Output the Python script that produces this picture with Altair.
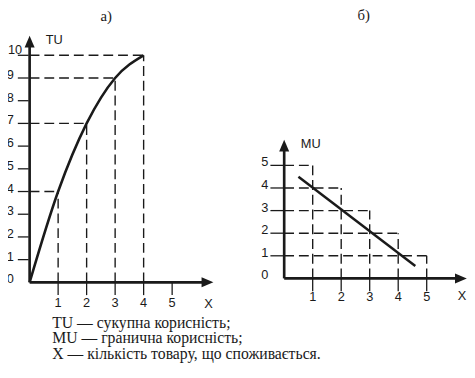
import altair as alt
import pandas as pd

# ---------------- Panel а): total utility TU ----------------
tu_x = [0, 1, 2, 3, 4]
tu_y = [0, 4, 7, 9, 10]
a_guide_x = [1, 2, 3, 4]
a_guide_y = [4, 7, 9, 10]
a_ytick_vals = [1, 2, 3, 4, 5, 6, 7, 8, 9, 10]
a_ylabel_vals = [0, 1, 2, 3, 4, 5, 6, 7, 8, 9, 10]
a_xtick_vals = [1, 2, 3, 4, 5]
a_axis_end_x = 6.24
a_axis_end_y = 10.6

# ---------------- Panel б): marginal utility MU ----------------
mu_x = [0.5, 4.6]
mu_y = [4.5, 0.55]
b_step_x = [1, 2, 3, 4, 5]
b_step_y = [5, 4, 3, 2, 1]
b_ytick_vals = [1, 2, 3, 4, 5]
b_ylabel_vals = [0, 1, 2, 3, 4, 5]
b_xtick_vals = [1, 2, 3, 4, 5]
b_axis_end_x = 6.2
b_axis_end_y = 5.87

captions = [
    "TU — сукупна корисність;",
    "MU — гранична корисність;",
    "X — кількість товару, що споживається.",
]

INK = "#1a1a1a"
SANS = "Liberation Sans"
SERIF = "Liberation Serif"
DASH = [10, 5]

xa = alt.Scale(domain=[0, 5], range=[22, 167], nice=False, zero=False)
ya = alt.Scale(domain=[0, 10], range=[276, 45], nice=False, zero=False)
xb = alt.Scale(domain=[0, 5], range=[281, 426], nice=False, zero=False)
yb = alt.Scale(domain=[0, 5], range=[272, 157], nice=False, zero=False)

UP = "M0,-1L0.85,1L-0.85,1Z"
RIGHT = "M1,0L-1,0.85L-1,-0.85Z"


def X(f, s):
    return alt.X(f, type="quantitative", scale=s, axis=None)


def Y(f, s):
    return alt.Y(f, type="quantitative", scale=s, axis=None)


def frame(xs, ys, end_x, end_y, ytick_vals, ylabel_vals, xtick_vals, xlab_dy, ytick_left):
    axes = pd.DataFrame({
        "x0": [0, 0], "x1": [0, end_x],
        "y0": [0, 0], "y1": [end_y, 0],
    })
    axis_lines = alt.Chart(axes).mark_rule(color=INK, strokeWidth=2.7).encode(
        x=X("x0", xs), x2="x1", y=Y("y0", ys), y2="y1")
    up = alt.Chart(pd.DataFrame({"x": [0], "y": [end_y]})).mark_point(
        shape=UP, filled=True, size=144, color=INK, opacity=1, strokeWidth=0
    ).encode(x=X("x", xs), y=Y("y", ys))
    right = alt.Chart(pd.DataFrame({"x": [end_x], "y": [0]})).mark_point(
        shape=RIGHT, filled=True, size=144, color=INK, opacity=1, strokeWidth=0
    ).encode(x=X("x", xs), y=Y("y", ys))
    yt = pd.DataFrame({"v": ytick_vals, "z": [0] * len(ytick_vals)})
    yticks = alt.Chart(yt).mark_rule(
        color=INK, strokeWidth=1.3, xOffset=ytick_left, x2Offset=-1
    ).encode(x=X("z", xs), x2="z", y=Y("v", ys))
    yl = pd.DataFrame({"v": ylabel_vals, "z": [0] * len(ylabel_vals),
                       "t": [str(v) for v in ylabel_vals]})
    short = yl[yl["t"].str.len() == 1]
    wide = yl[yl["t"].str.len() > 1]
    layers = [axis_lines, up, right, yticks]
    layers.append(alt.Chart(short).mark_text(
        align="right", baseline="alphabetic", dx=-16, dy=1,
        font=SANS, fontSize=13, color=INK
    ).encode(x=X("z", xs), y=Y("v", ys), text="t:N"))
    if len(wide):
        layers.append(alt.Chart(wide).mark_text(
            align="left", baseline="alphabetic", dx=-22, dy=-1,
            font=SANS, fontSize=13, color=INK
        ).encode(x=X("z", xs), y=Y("v", ys), text="t:N"))
    xt = pd.DataFrame({"v": xtick_vals, "z": [0] * len(xtick_vals),
                       "t": [str(v) for v in xtick_vals]})
    layers.append(alt.Chart(xt).mark_rule(
        color=INK, strokeWidth=1.3, yOffset=0, y2Offset=13
    ).encode(x=X("v", xs), y=Y("z", ys), y2="z"))
    layers.append(alt.Chart(xt).mark_text(
        align="center", baseline="alphabetic", dy=xlab_dy,
        font=SANS, fontSize=13, color=INK
    ).encode(x=X("v", xs), y=Y("z", ys), text="t:N"))
    return layers


# ----- panel а) layers -----
ga = pd.DataFrame({"gx": a_guide_x, "gy": a_guide_y, "z": [0] * len(a_guide_x)})
a_h = alt.Chart(ga).mark_rule(color=INK, strokeWidth=1.4, strokeDash=DASH).encode(
    x=X("z", xa), x2="gx", y=Y("gy", ya))
a_v = alt.Chart(ga).mark_rule(color=INK, strokeWidth=1.4, strokeDash=DASH).encode(
    x=X("gx", xa), y=Y("z", ya), y2="gy")
tu = alt.Chart(pd.DataFrame({"x": tu_x, "y": tu_y})).mark_line(
    color=INK, strokeWidth=2.6, interpolate="monotone"
).encode(x=X("x", xa), y=Y("y", ya))
panel_a = alt.layer(
    a_h, a_v,
    *frame(xa, ya, a_axis_end_x, a_axis_end_y, a_ytick_vals, a_ylabel_vals,
           a_xtick_vals, 25, -12),
    tu,
)

# ----- panel б) layers -----
gb = pd.DataFrame({"gx": b_step_x, "gy": b_step_y, "z": [0] * len(b_step_x)})
b_h = alt.Chart(gb).mark_rule(color=INK, strokeWidth=1.4, strokeDash=DASH).encode(
    x=X("z", xb), x2="gx", y=Y("gy", yb))
b_v = alt.Chart(gb).mark_rule(color=INK, strokeWidth=1.4, strokeDash=DASH).encode(
    x=X("gx", xb), y=Y("z", yb), y2="gy")
mu = alt.Chart(pd.DataFrame({"x": mu_x, "y": mu_y})).mark_line(
    color=INK, strokeWidth=2.5
).encode(x=X("x", xb), y=Y("y", yb))
panel_b = alt.layer(
    b_h, b_v,
    *frame(xb, yb, b_axis_end_x, b_axis_end_y, b_ytick_vals, b_ylabel_vals,
           b_xtick_vals, 23, -14),
    mu,
)

# ----- annotations -----
one = pd.DataFrame({"k": [0]})


def label(txt, x, y, font=SANS, size=13, align="center", baseline="middle"):
    return alt.Chart(one).mark_text(
        font=font, fontSize=size, color=INK, align=align, baseline=baseline
    ).encode(x=alt.value(x), y=alt.value(y), text=alt.value(txt))


notes = [
    label("а)", 100, 5, font=SERIF, size=15),
    label("б)", 362, 4, font=SERIF, size=15),
    label("TU", 47, 30),
    label("X", 204, 298),
    label("MU", 308, 135),
    label("X", 462, 290),
    alt.Chart(one).mark_text(
        font=SERIF, fontSize=16, color=INK, align="left", baseline="alphabetic",
        lineBreak="\n", lineHeight=16
    ).encode(x=alt.value(45), y=alt.value(322), text=alt.value("\n".join(captions))),
]

chart = alt.layer(panel_a, panel_b, *notes).resolve_scale(
    x="independent", y="independent"
).properties(
    width=467, height=358, padding=0,
    autosize=alt.AutoSizeParams(type="none"),
    background="white",
).configure_view(stroke=None)

chart.save("out.html", embed_options={"renderer": "svg", "actions": False})
